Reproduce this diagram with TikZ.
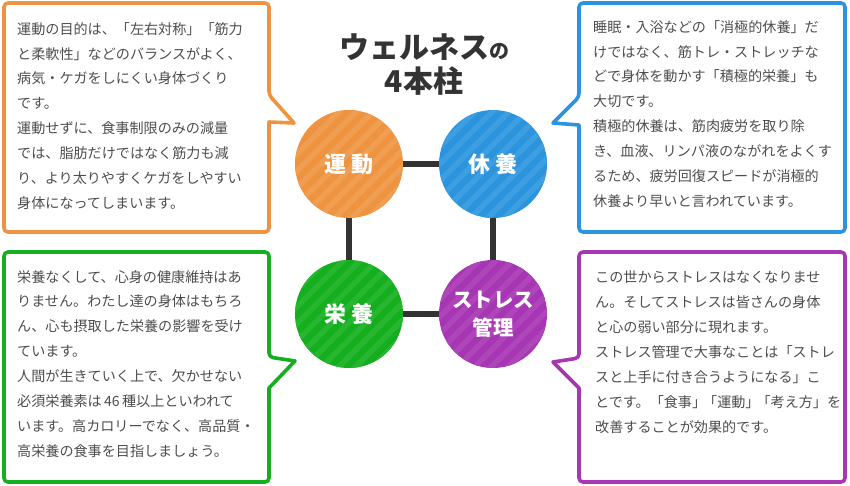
\documentclass[tikz,border=0pt]{standalone}
\usepackage{fontspec}
\newfontfamily\jp{Noto Sans CJK JP}
\usetikzlibrary{patterns.meta}
\definecolor{cOr}{HTML}{EE9340}
\definecolor{cOrL}{HTML}{F09E52}
\definecolor{cBl}{HTML}{2C94DD}
\definecolor{cBlL}{HTML}{3D9EE1}
\definecolor{cGr}{HTML}{14AE1E}
\definecolor{cGrL}{HTML}{28B631}
\definecolor{cPu}{HTML}{A636B3}
\definecolor{cPuL}{HTML}{AE46BA}
\definecolor{txt}{HTML}{4D4D4D}
\definecolor{dark}{HTML}{333333}
\begin{document}
\begin{tikzpicture}[x=1pt,y=-1pt,
  pillar/.style 2 args={circle, minimum size=108pt, inner sep=0pt, fill=#1,
    postaction={pattern={Lines[angle=45,distance=12pt,line width=5.5pt]}, pattern color=#2},
    text=white, font=\jp\bfseries\fontsize{22}{28}\selectfont, align=center},
  link/.style={draw=dark, line width=6pt},
  bubble/.style={line width=3.6pt, line join=round},
  body/.style={anchor=north west, inner sep=0pt, text=txt,
    font=\jp\fontsize{14.1}{24.9}\selectfont, align=left},
]
\useasboundingbox (0,0) rectangle (850,485);

% speech bubbles
\draw[bubble, draw=cOr, rounded corners=4pt] (269,122) -- (269,232) -- (4,232) -- (4,3) -- (269,3) -- (269,95) [sharp corners] -- (294,123) -- cycle;
\draw[bubble, draw=cBl, rounded corners=4pt] (579,125) -- (579,232) -- (845,232) -- (845,3) -- (579,3) -- (579,97) [sharp corners] -- (553,123) -- cycle;
\draw[bubble, draw=cGr, rounded corners=4pt] (269,388) -- (269,482) -- (4,482) -- (4,252) -- (269,252) -- (269,357) [sharp corners] -- (295,361) -- cycle;
\draw[bubble, draw=cPu, rounded corners=4pt] (579,388) -- (579,482) -- (845,482) -- (845,252) -- (579,252) -- (579,358) [sharp corners] -- (553,362) -- cycle;

% title
\node[align=center, text=dark, font=\jp\bfseries\fontsize{30}{34}\selectfont] (title) at (424,65)
  {ウェルネス{\fontsize{20}{34}\selectfont の}\\4本柱};

% pillars
\node[pillar={cOr}{cOrL}] (undo) at (349,164) {運\hspace{5pt}動};
\node[pillar={cBl}{cBlL}] (kyuyo) at (493,164) {休\hspace{5pt}養};
\node[pillar={cGr}{cGrL}] (eiyo) at (349,314) {栄\hspace{5pt}養};
\node[pillar={cPu}{cPuL}, font=\jp\bfseries\fontsize{20.5}{28}\selectfont] (stress) at (493,314) {ストレス\\管理};

\draw[link] (undo) -- (kyuyo);
\draw[link] (undo) -- (eiyo);
\draw[link] (kyuyo) -- (stress);
\draw[link] (eiyo) -- (stress);

% texts
\node[body] (t1) at (17,22) {運動の目的は、「左右対称」「筋力\\と柔軟性」などのバランスがよく、\\病気・ケガをしにくい身体づくり\\です。\\運動せずに、食事制限のみの減量\\では、脂肪だけではなく筋力も減\\り、より太りやすくケガをしやすい\\身体になってしまいます。};
\node[body] (t2) at (593,20) {睡眠・入浴などの「消極的休養」だ\\けではなく、筋トレ・ストレッチな\\どで身体を動かす「積極的栄養」も\\大切です。\\積極的休養は、筋肉疲労を取り除\\き、血液、リンパ液のながれをよくす\\るため、疲労回復スピードが消極的\\休養より早いと言われています。};
\node[body] (t3) at (17,270) {栄養なくして、心身の健康維持はあ\\りません。わたし達の身体はもちろ\\ん、心も摂取した栄養の影響を受け\\ています。\\人間が生きていく上で、欠かせない\\必須栄養素は\,46\,種以上といわれて\\います。高カロリーでなく、高品質・\\高栄養の食事を目指しましょう。};
\node[body] (t4) at (595,271) {この世からストレスはなくなりませ\\ん。そしてストレスは皆さんの身体\\と心の弱い部分に現れます。\\ストレス管理で大事なことは「ストレ\\スと上手に付き合うようになる」こ\\とです。「食事」\kern-3pt「運動」\kern-3pt「考え方」を\\改善することが効果的です。};
\end{tikzpicture}
\end{document}
